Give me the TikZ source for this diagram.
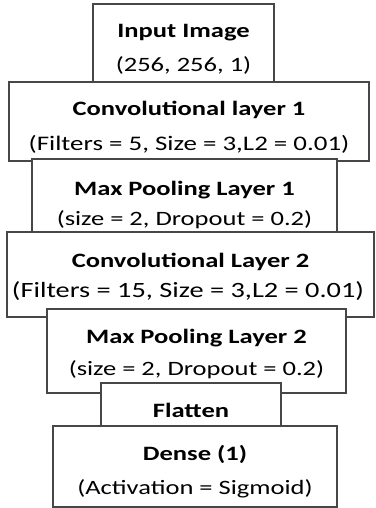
\documentclass[tikz,border=0pt]{standalone}
\usepackage{fontspec}
\setmainfont[FakeStretch=1.3]{Carlito}
\begin{document}
\begin{tikzpicture}[x=1pt,y=-1pt,
  box/.style={draw=black!72, line width=1.1pt, fill=white, inner sep=0pt},
  ttl/.style={anchor=base, inner sep=0pt, font=\fontsize{#1}{#1}\selectfont\bfseries},
  ttl/.default=20.4,
  sub/.style={anchor=base, inner sep=0pt, font=\fontsize{#1}{#1}\selectfont},
  sub/.default=20.4]
\useasboundingbox (0,0) rectangle (375,508);
% Input
\node[box, minimum width=181pt, minimum height=78pt] (inp) at (183.5,43) {};
\node[ttl] (inpT) at (183.5,38) {Input Image};
\node[sub] (inpS) at (183.5,72) {(256, 256, 1)};
% Conv 1
\node[box, minimum width=360pt, minimum height=79pt] (c1) at (189,121.5) {};
\node[ttl] (c1T) at (189,116) {Convolutional layer 1};
\node[sub=20.7] (c1S) at (189,150) {(Filters = 5, Size = 3,L2 = 0.01)};
% Max pool 1
\node[box, minimum width=305pt, minimum height=73pt] (m1) at (184.5,195.5) {};
\node[ttl] (m1T) at (184.5,195) {Max Pooling Layer 1};
\node[sub] (m1S) at (184.5,225) {(size = 2, Dropout = 0.2)};
% Conv 2
\node[box, minimum width=367pt, minimum height=85pt] (c2) at (190.5,274.5) {};
\node[ttl] (c2T) at (190.5,267) {Convolutional Layer 2};
\node[sub=21.8] (c2S) at (188,297) {(Filters = 15, Size = 3,L2 = 0.01)};
% Max pool 2
\node[box, minimum width=299pt, minimum height=84pt] (m2) at (196.5,351) {};
\node[ttl] (m2T) at (196.5,343) {Max Pooling Layer 2};
\node[sub] (m2S) at (196.5,375) {(size = 2, Dropout = 0.2)};
% Flatten
\node[box, minimum width=180pt, minimum height=43pt] (fl) at (191,404.5) {};
\node[ttl] (flT) at (191,417) {Flatten};
% Dense
\node[box, minimum width=284pt, minimum height=81pt] (de) at (195,466.5) {};
\node[ttl] (deT) at (195,460) {Dense (1)};
\node[sub] (deS) at (195,494) {(Activation = Sigmoid)};
\end{tikzpicture}
\end{document}
